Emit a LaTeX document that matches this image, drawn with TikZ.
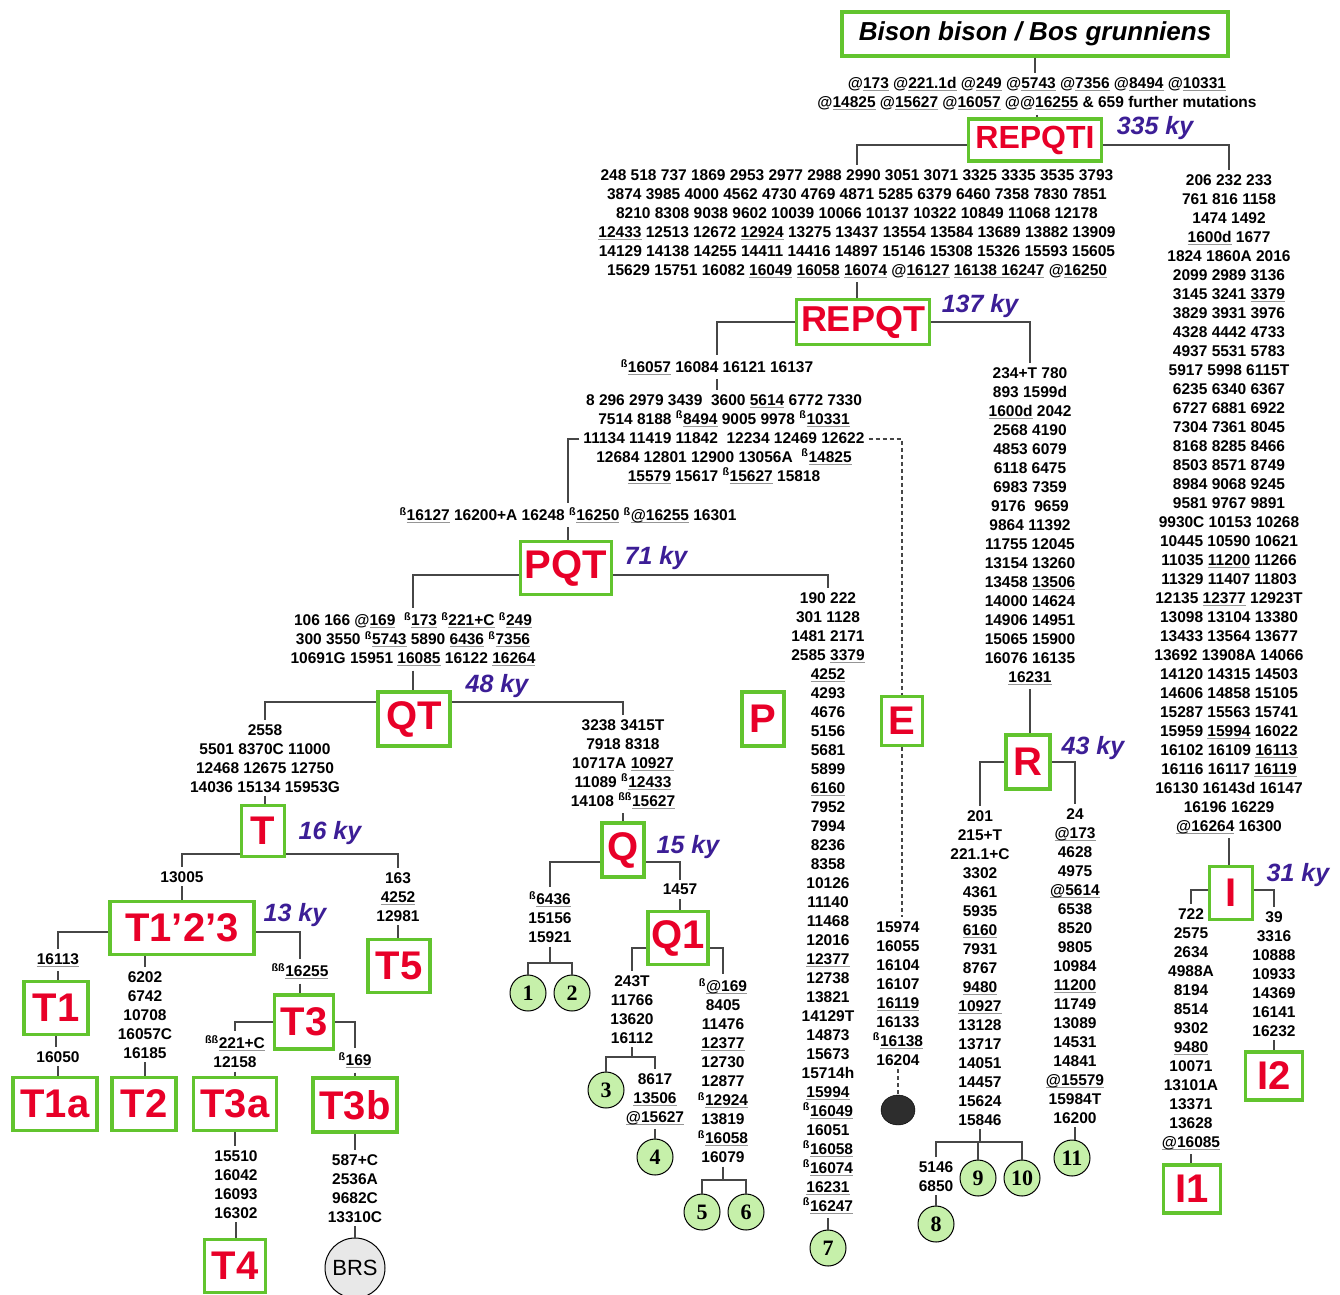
\documentclass[tikz,border=0pt]{standalone}
\usepackage{fontspec}
\setmainfont{Liberation Sans}
\newfontfamily\numserif{Liberation Serif}
\usetikzlibrary{shapes.geometric}

\definecolor{hapgreen}{RGB}{98,196,46}
\definecolor{hapred}{RGB}{232,0,40}
\definecolor{kyblue}{RGB}{60,30,150}
\definecolor{leafgreen}{RGB}{198,240,170}
\definecolor{linkgray}{RGB}{70,70,70}
\definecolor{ulgray}{RGB}{150,150,150}
\definecolor{brsgray}{RGB}{232,232,232}
\definecolor{darkdot}{RGB}{45,45,45}

\newsavebox\ulbox
\newcommand\und[1]{\sbox\ulbox{#1}\rlap{\color{ulgray}\rule[-3pt]{\wd\ulbox}{1.2pt}}\usebox\ulbox}
\newcommand\bsup{\textsuperscript{ß}}
\newcommand\bbsup{\textsuperscript{ßß}}

\begin{document}
\begin{tikzpicture}[x=1pt,y=-1pt,
    hapbox/.style={draw=hapgreen, line width=3.5pt, fill=white, text=hapred,
      font=\bfseries\fontsize{40}{40}\selectfont, inner sep=0pt},
    titlebox/.style={draw=hapgreen, line width=3.5pt, fill=white,
      font=\bfseries\itshape\fontsize{26}{26}\selectfont, inner sep=0pt,
      minimum width=386pt, minimum height=44pt},
    mut/.style={font=\bfseries\fontsize{15.5}{19}\selectfont, align=center,
      inner sep=4pt, anchor=north},
    ky/.style={text=kyblue, font=\bfseries\itshape\fontsize{25}{25}\selectfont},
    leaf/.style={circle, draw=black, line width=1pt, fill=leafgreen,
      minimum size=36pt, inner sep=0pt,
      font=\numserif\bfseries\fontsize{22}{22}\selectfont},
    link/.style={draw=linkgray, line width=1.4pt},
    dlink/.style={link, dash pattern=on 4pt off 3pt}]
  \useasboundingbox (0,0) rectangle (1340,1294);

  % Root and REPQTI
  \node[titlebox] (root) at (1035,34) {Bison bison / Bos grunniens};
  \node[mut] (m0) at (1037,73) {@\und{173} @\und{221.1d} @\und{249} @\und{5743} @\und{7356} @\und{8494} @\und{10331}\\
    @\und{14825} @\und{15627} @\und{16057} @@\und{16255} \& 659 further mutations};
  \node[hapbox, font=\bfseries\fontsize{32}{32}\selectfont, minimum width=133pt, minimum height=42pt] (repqti) at (1035,140) {REPQTI};
  \node[ky] (k335) at (1155,128) {335 ky};

  \node[mut] (m1) at (857,165) {248 518 737 1869 2953 2977 2988 2990 3051 3071 3325 3335 3535 3793\\
    3874 3985 4000 4562 4730 4769 4871 5285 6379 6460 7358 7830 7851\\
    8210 8308 9038 9602 10039 10066 10137 10322 10849 11068 12178\\
    \und{12433} 12513 12672 \und{12924} 13275 13437 13554 13584 13689 13882 13909\\
    14129 14138 14255 14411 14416 14897 15146 15308 15326 15593 15605\\
    15629 15751 16082 \und{16049} \und{16058} \und{16074} @\und{16127} \und{16138 16247} @\und{16250}};

  % I branch
  \node[mut] (mI) at (1229,170) {206 232 233\\ 761 816 1158\\ 1474 1492\\ \und{1600d} 1677\\
    1824 1860A 2016\\ 2099 2989 3136\\ 3145 3241 \und{3379}\\ 3829 3931 3976\\
    4328 4442 4733\\ 4937 5531 5783\\ 5917 5998 6115T\\ 6235 6340 6367\\
    6727 6881 6922\\ 7304 7361 8045\\ 8168 8285 8466\\ 8503 8571 8749\\
    8984 9068 9245\\ 9581 9767 9891\\ 9930C 10153 10268\\ 10445 10590 10621\\
    11035 \und{11200} 11266\\ 11329 11407 11803\\ 12135 \und{12377} 12923T\\
    13098 13104 13380\\ 13433 13564 13677\\ 13692 13908A 14066\\
    14120 14315 14503\\ 14606 14858 15105\\ 15287 15563 15741\\
    15959 \und{15994} 16022\\ 16102 16109 \und{16113}\\ 16116 16117 \und{16119}\\
    16130 16143d 16147\\ 16196 16229\\ \und{@16264} 16300};
  \node[hapbox, minimum width=43pt, minimum height=53pt] (hI) at (1231,893) {I};
  \node[ky] (k31) at (1298,875) {31 ky};
  \node[mut] (mIa) at (1191,904) {722\\ 2575\\ 2634\\ 4988A\\ 8194\\ 8514\\ 9302\\ \und{9480}\\
    10071\\ 13101A\\ 13371\\ 13628\\ \und{@16085}};
  \node[mut] (mIb) at (1274,907) {39\\ 3316\\ 10888\\ 10933\\ 14369\\ 16141\\ 16232};
  \node[hapbox, minimum width=57pt, minimum height=48pt] (hI1) at (1192,1189) {I1};
  \node[hapbox, minimum width=57pt, minimum height=48pt] (hI2) at (1274,1076) {I2};

  % REPQT
  \node[hapbox, font=\bfseries\fontsize{36}{36}\selectfont, minimum width=133pt, minimum height=45pt] (repqt) at (863,322) {REPQT};
  \node[ky] (k137) at (980,306) {137 ky};
  \node[mut] (mA) at (717,355) {\bsup\und{16057} 16084 16121 16137};
  \node[mut] (mB) at (724,390) {8 296 2979 3439~ 3600 \und{5614} 6772 7330\\
    7514 8188 \bsup\und{8494} 9005 9978 \bsup\und{10331}\\
    11134 11419 11842~ 12234 12469 12622\\
    12684 12801 12900 13056A~ \bsup\und{14825}\\
    \und{15579} 15617 \bsup\und{15627} 15818};
  \node[mut] (mC) at (568,503) {\bsup\und{16127} 16200+A 16248 \bsup\und{16250} \bsup\und{@16255} 16301};

  % R branch
  \node[mut] (mR) at (1030,363) {234+T 780\\ 893 1599d\\ \und{1600d} 2042\\ 2568 4190\\
    4853 6079\\ 6118 6475\\ 6983 7359\\ 9176~ 9659\\ 9864 11392\\ 11755 12045\\
    13154 13260\\ 13458 \und{13506}\\ 14000 14624\\ 14906 14951\\ 15065 15900\\
    16076 16135\\ \und{16231}};
  \node[hapbox, minimum width=44pt, minimum height=54pt] (hR) at (1028,762) {R};
  \node[ky] (k43) at (1093,748) {43 ky};
  \node[mut] (mRa) at (980,806) {201\\ 215+T\\ 221.1+C\\ 3302\\ 4361\\ 5935\\ \und{6160}\\
    7931\\ 8767\\ \und{9480}\\ \und{10927}\\ 13128\\ 13717\\ 14051\\ 14457\\ 15624\\ 15846};
  \node[mut] (mRb) at (1075,804) {24\\ \und{@173}\\ 4628\\ 4975\\ \und{@5614}\\ 6538\\ 8520\\
    9805\\ 10984\\ \und{11200}\\ 11749\\ 13089\\ 14531\\ 14841\\ \und{@15579}\\ 15984T\\ 16200};
  \coordinate (jR) at (978,1142);
  \node[mut] (mRc) at (936,1157) {5146\\ 6850};
  \node[leaf] (c8) at (936,1224) {8};
  \node[leaf] (c9) at (978,1178) {9};
  \node[leaf] (c10) at (1022,1178) {10};
  \node[leaf] (c11) at (1072,1158) {11};

  % E
  \node[hapbox, minimum width=41pt, minimum height=49pt] (hE) at (902,721) {E};
  \node[mut] (mE) at (898,917) {15974\\ 16055\\ 16104\\ 16107\\ \und{16119}\\ 16133\\
    \bsup\und{16138}\\ 16204};
  \node[ellipse, draw=black, fill=darkdot, minimum width=34pt, minimum height=30pt] (dot) at (898,1110) {};

  % PQT
  \node[hapbox, minimum width=91pt, minimum height=53pt] (pqt) at (566,568) {PQT};
  \node[ky] (k71) at (656,558) {71 ky};
  \node[mut] (mD) at (413,608) {106 166 @\und{169}~ \bsup\und{173} \bsup\und{221+C} \bsup\und{249}\\
    300 3550 \bsup\und{5743} 5890 \und{6436} \bsup\und{7356}\\
    10691G 15951 \und{16085} 16122 \und{16264}};

  % P
  \node[hapbox, minimum width=42pt, minimum height=54pt] (hP) at (763,719) {P};
  \node[mut] (mP) at (828,588) {190 222\\ 301 1128\\ 1481 2171\\ 2585 \und{3379}\\ \und{4252}\\
    4293\\ 4676\\ 5156\\ 5681\\ 5899\\ \und{6160}\\ 7952\\ 7994\\ 8236\\ 8358\\ 10126\\
    11140\\ 11468\\ 12016\\ \und{12377}\\ 12738\\ 13821\\ 14129T\\ 14873\\ 15673\\
    15714h\\ \und{15994}\\ \bsup\und{16049}\\ 16051\\ \bsup\und{16058}\\ \bsup\und{16074}\\
    \und{16231}\\ \bsup\und{16247}};
  \node[leaf] (c7) at (828,1248) {7};

  % QT
  \node[hapbox, minimum width=72pt, minimum height=54pt] (qt) at (414,719) {QT};
  \node[ky] (k48) at (497,686) {48 ky};

  % Q branch
  \node[mut] (mQ) at (623,715) {3238 3415T\\ 7918 8318\\ 10717A \und{10927}\\
    11089 \bsup\und{12433}\\ 14108 \bbsup\und{15627}};
  \node[hapbox, minimum width=42pt, minimum height=54pt] (hQ) at (623,850) {Q};
  \node[ky] (k15) at (688,847) {15 ky};
  \node[mut] (mQa) at (550,887) {\bsup\und{6436}\\ 15156\\ 15921};
  \coordinate (jQ) at (550,963);
  \node[leaf] (c1) at (528,993) {1};
  \node[leaf] (c2) at (572,993) {2};
  \node[mut] (m1457) at (680,880) {1457};
  \node[hapbox, minimum width=60pt, minimum height=53pt] (hQ1) at (678,938) {Q1};
  \node[mut] (mQb) at (632,971) {243T\\ 11766\\ 13620\\ 16112};
  \coordinate (jQb) at (632,1057);
  \node[leaf] (c3) at (606,1090) {3};
  \node[mut] (mQc) at (655,1069) {8617\\ \und{13506}\\ \und{@15627}};
  \node[leaf] (c4) at (655,1157) {4};
  \node[mut] (mQd) at (723,974) {\bsup\und{@169}\\ 8405\\ 11476\\ \und{12377}\\ 12730\\ 12877\\
    \bsup\und{12924}\\ 13819\\ \bsup\und{16058}\\ 16079};
  \coordinate (jQd) at (723,1180);
  \node[leaf] (c5) at (702,1212) {5};
  \node[leaf] (c6) at (746,1212) {6};

  % T branch
  \node[mut] (mT) at (265,720) {2558\\ 5501 8370C 11000\\ 12468 12675 12750\\ 14036 15134 15953G};
  \node[hapbox, minimum width=43pt, minimum height=51pt] (hT) at (263,831) {T};
  \node[ky] (k16) at (330,833) {16 ky};
  \node[mut] (m13005) at (182,867) {13005};
  \node[hapbox, minimum width=144pt, minimum height=53pt] (t123) at (182,928) {T1’2’3};
  \node[ky] (k13) at (295,915) {13 ky};
  \node[mut] (mT5) at (398,868) {163\\ \und{4252}\\ 12981};
  \node[hapbox, minimum width=62pt, minimum height=53pt] (hT5) at (399,966) {T5};

  \node[mut] (m16113) at (58,949) {\und{16113}};
  \node[hapbox, minimum width=64pt, minimum height=53pt] (hT1) at (56,1008) {T1};
  \node[mut] (m16050) at (58,1047) {16050};
  \node[hapbox, minimum width=84pt, minimum height=53pt] (hT1a) at (55,1104) {T1a};
  \node[mut] (mT2) at (145,967) {6202\\ 6742\\ 10708\\ 16057C\\ 16185};
  \node[hapbox, minimum width=64pt, minimum height=53pt] (hT2) at (144,1104) {T2};

  \node[mut] (m16255) at (300,959) {\bbsup\und{16255}};
  \node[hapbox, minimum width=59pt, minimum height=54pt] (hT3) at (304,1022) {T3};
  \node[mut] (m221) at (235,1031) {\bbsup\und{221+C}\\ 12158};
  \node[mut] (m169) at (355,1048) {\bsup\und{169}};
  \node[hapbox, minimum width=83pt, minimum height=53pt] (hT3a) at (235,1104) {T3a};
  \node[hapbox, minimum width=84pt, minimum height=54pt] (hT3b) at (355,1105) {T3b};
  \node[mut] (mT4) at (236,1146) {15510\\ 16042\\ 16093\\ 16302};
  \node[hapbox, minimum width=61pt, minimum height=53pt] (hT4) at (235,1266) {T4};
  \node[mut] (mBRS) at (355,1150) {587+C\\ 2536A\\ 9682C\\ 13310C};
  \node[circle, draw=black, line width=1pt, fill=brsgray, minimum size=60pt, inner sep=0pt,
    font=\fontsize{22}{22}\selectfont] (brs) at (355,1268) {BRS};

  % Links
  \draw[link] (root.south) -- (root.south |- m0.north);
  \draw[link] (m0.south) -- (m0.south |- repqti.north);
  \draw[link] ([yshift=-5pt]repqti.west) -| (m1.north);
  \draw[link] ([yshift=-5pt]repqti.east) -| (mI.north);
  \draw[link] (m1.south) -- (m1.south |- repqt.north);
  \draw[link] (repqt.west) -| (mA.north);
  \draw[link] (repqt.east) -| (mR.north);
  \draw[link] (mA.south) -- (mA.south |- mB.north);
  \draw[link] (mB.west) -| (mC.north);
  \draw[link] (mC.south) -- (mC.south |- pqt.north);
  \draw[dlink] (mB.east) -| (hE.north);
  \draw[dlink] (hE.south) -- (hE.south |- mE.north);
  \draw[dlink] (mE.south) -- (dot.north);

  \draw[link] ([yshift=-7pt]pqt.west) -| (mD.north);
  \draw[link] ([yshift=-7pt]pqt.east) -| (mP.north);
  \draw[link] (mP.south) -- (c7.north);
  \draw[link] (mD.south) -- (mD.south |- qt.north);
  \draw[link] ([yshift=17pt]qt.west) -| (mT.north);
  \draw[link] ([yshift=17pt]qt.east) -| (mQ.north);

  \draw[link] (mT.south) -- (mT.south |- hT.north);
  \draw[link] ([yshift=-23pt]hT.west) -| (m13005.north);
  \draw[link] ([yshift=-23pt]hT.east) -| (mT5.north);
  \draw[link] (m13005.south) -- (t123.north);
  \draw[link] (mT5.south) -- (mT5.south |- hT5.north);
  \draw[link] ([yshift=-4pt]t123.west) -| (m16113.north);
  \draw[link] ([yshift=-4pt]t123.east) -| (m16255.north);
  \draw[link] (mT2.north) -- (mT2.north |- t123.south);
  \draw[link] (m16113.south) -- (m16113.south |- hT1.north);
  \draw[link] (hT1.south) -- (hT1.south |- m16050.north);
  \draw[link] (m16050.south) -- (m16050.south |- hT1a.north);
  \draw[link] (mT2.south) -- (mT2.south |- hT2.north);
  \draw[link] (m16255.south) -- (m16255.south |- hT3.north);
  \draw[link] (hT3.west) -| (m221.north);
  \draw[link] (hT3.east) -| (m169.north);
  \draw[link] (m221.south) -- (hT3a.north);
  \draw[link] (m169.south) -- (hT3b.north);
  \draw[link] (hT3a.south) -- (hT3a.south |- mT4.north);
  \draw[link] (mT4.south) -- (mT4.south |- hT4.north);
  \draw[link] (hT3b.south) -- (mBRS.north);
  \draw[link] (mBRS.south) -- (brs.north);

  \draw[link] (mQ.south) -- (hQ.north);
  \draw[link] ([yshift=-12pt]hQ.west) -| (mQa.north);
  \draw[link] ([yshift=-12pt]hQ.east) -| (m1457.north);
  \draw[link] (mQa.south) -- (jQ);
  \draw[link] (c1.north) |- (jQ) -| (c2.north);
  \draw[link] (m1457.south) -- (m1457.south |- hQ1.north);
  \draw[link] ([yshift=-10pt]hQ1.west) -| (mQb.north);
  \draw[link] ([yshift=-10pt]hQ1.east) -| (mQd.north);
  \draw[link] (mQb.south) -- (jQb);
  \draw[link] (c3.north) |- (jQb) -| (mQc.north);
  \draw[link] (mQc.south) -- (c4.north);
  \draw[link] (mQd.south) -- (jQd);
  \draw[link] (c5.north) |- (jQd) -| (c6.north);

  \draw[link] (mR.south) -- (mR.south |- hR.north);
  \draw[link] (hR.west) -| (mRa.north);
  \draw[link] (hR.east) -| (mRb.north);
  \draw[link] (mRa.south) -- (mRa.south |- jR);
  \draw[link] (mRc.north) |- (jR) -| (c10.north);
  \draw[link] (jR) -- (c9.north);
  \draw[link] (mRc.south) -- (c8.north);
  \draw[link] (mRb.south) -- (mRb.south |- c11.north);

  \draw[link] (mI.south) -- (mI.south |- hI.north);
  \draw[link] ([yshift=3pt]hI.west) -| (mIa.north);
  \draw[link] ([yshift=3pt]hI.east) -| (mIb.north);
  \draw[link] (mIa.south) -- (mIa.south |- hI1.north);
  \draw[link] (mIb.south) -- (mIb.south |- hI2.north);
\end{tikzpicture}
\end{document}
